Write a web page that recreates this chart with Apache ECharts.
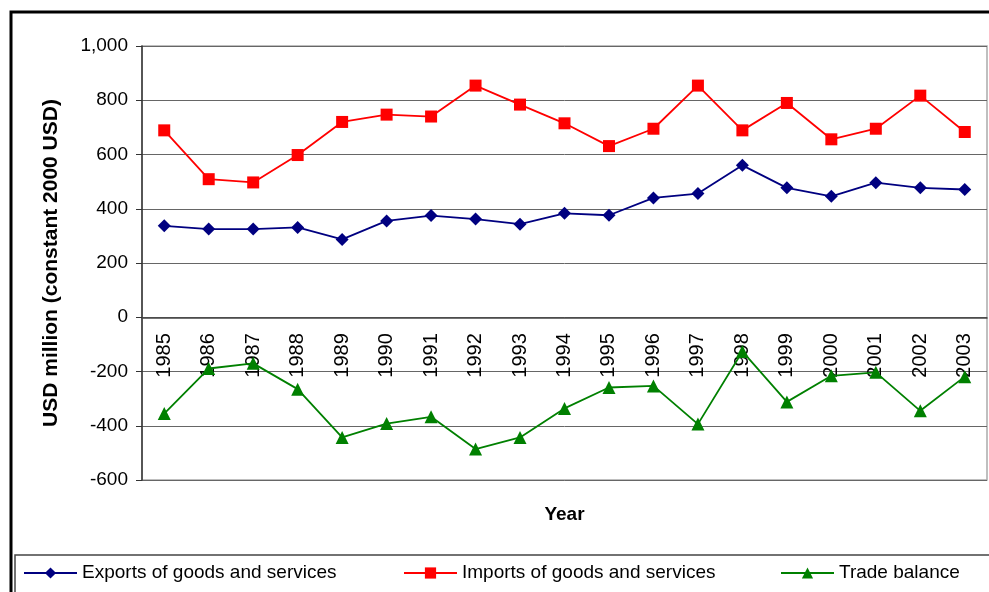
<!DOCTYPE html>
<html>
<head>
<meta charset="utf-8">
<script src="https://cdn.jsdelivr.net/npm/echarts@6/dist/echarts.min.js"></script>
<style>
  html, body { margin: 0; padding: 0; background: #fff; }
  #chart { width: 989px; height: 592px; }
</style>
</head>
<body>
<div id="chart"></div>
<script>
const years = ['1985', '1986', '1987', '1988', '1989', '1990', '1991', '1992', '1993', '1994',
  '1995', '1996', '1997', '1998', '1999', '2000', '2001', '2002', '2003'];

// USD million
const exportsData = [337, 325, 325, 331, 287, 355, 375, 362, 343, 383,
  376, 440, 456, 560, 477, 446, 496, 477, 471];
const importsData = [689, 509, 497, 598, 720, 747, 740, 854, 784, 715,
  631, 695, 854, 689, 790, 656, 695, 817, 683];
const balanceData = [-355, -189, -170, -265, -443, -392, -367, -486, -443, -336,
  -259, -253, -394, -126, -312, -216, -203, -345, -219];

const FONT = '"Liberation Sans", Arial, sans-serif';

const chart = echarts.init(document.getElementById('chart'));

const legendCommon = {
  top: 563,
  padding: 0,
  itemWidth: 53,
  itemHeight: 14,
  textStyle: { fontFamily: FONT, fontSize: 19, color: '#000', lineHeight: 20 }
};

// plot box; the category axis sits on the zero line, so shift it up from the bottom
const plotTop = 46, plotHeight = 434, yMin = -600, yMax = 1000;
const zeroOffset = plotHeight * (0 - yMin) / (yMax - yMin);

const option = {
  backgroundColor: '#fff',
  animation: false,
  textStyle: { fontFamily: FONT },
  graphic: [
    // outer chart frame
    { type: 'rect', shape: { x: 11, y: 12, width: 1000, height: 600 },
      style: { fill: 'none', stroke: '#000', lineWidth: 3 }, silent: true },
    // legend box
    { type: 'rect', shape: { x: 15, y: 555, width: 990, height: 50 },
      style: { fill: 'none', stroke: '#444', lineWidth: 1.5 }, silent: true }
  ],
  legend: [
    Object.assign({ left: 23, data: ['Exports of goods and services'] }, legendCommon),
    Object.assign({ left: 403, data: ['Imports of goods and services'] }, legendCommon),
    Object.assign({ left: 780, data: ['Trade balance'] }, legendCommon)
  ],
  grid: {
    left: 142,
    top: plotTop,
    width: 845,
    height: plotHeight,
    outerBoundsMode: 'none',
    show: true,
    borderColor: '#aaa',
    borderWidth: 1.5
  },
  xAxis: {
    type: 'category',
    data: years,
    offset: -zeroOffset,
    name: 'Year',
    nameLocation: 'middle',
    nameGap: 188,
    nameTextStyle: { fontFamily: FONT, fontSize: 19, fontWeight: 'bold', color: '#000' },
    axisLine: { onZero: false, lineStyle: { color: '#444', width: 1.5 } },
    axisTick: { length: 5, lineStyle: { color: '#444' } },
    axisLabel: { rotate: 90, interval: 0, margin: 16, fontSize: 20, color: '#000', fontFamily: FONT }
  },
  yAxis: {
    type: 'value',
    min: yMin,
    max: yMax,
    interval: 200,
    name: 'USD million (constant 2000 USD)',
    nameLocation: 'middle',
    nameGap: 80,
    nameTextStyle: { fontFamily: FONT, fontSize: 21, fontWeight: 'bold', color: '#000' },
    axisLine: { show: true, lineStyle: { color: '#333', width: 1.5 } },
    axisTick: { show: true, length: 6, lineStyle: { color: '#333' } },
    axisLabel: {
      margin: 14, fontSize: 19, color: '#000', fontFamily: FONT,
      formatter: v => v.toLocaleString('en-US')
    },
    splitLine: { lineStyle: { color: '#666', width: 1 } }
  },
  series: [
    {
      name: 'Exports of goods and services',
      type: 'line',
      data: exportsData,
      symbol: 'diamond',
      symbolSize: 13,
      itemStyle: { color: '#000080' },
      lineStyle: { color: '#000080', width: 1.8 }
    },
    {
      name: 'Imports of goods and services',
      type: 'line',
      data: importsData,
      symbol: 'rect',
      symbolSize: 12,
      itemStyle: { color: '#ff0000' },
      lineStyle: { color: '#ff0000', width: 1.8 }
    },
    {
      name: 'Trade balance',
      type: 'line',
      data: balanceData,
      symbol: 'triangle',
      symbolSize: 13,
      itemStyle: { color: '#008000' },
      lineStyle: { color: '#008000', width: 1.8 }
    }
  ]
};

chart.setOption(option);
</script>
</body>
</html>
